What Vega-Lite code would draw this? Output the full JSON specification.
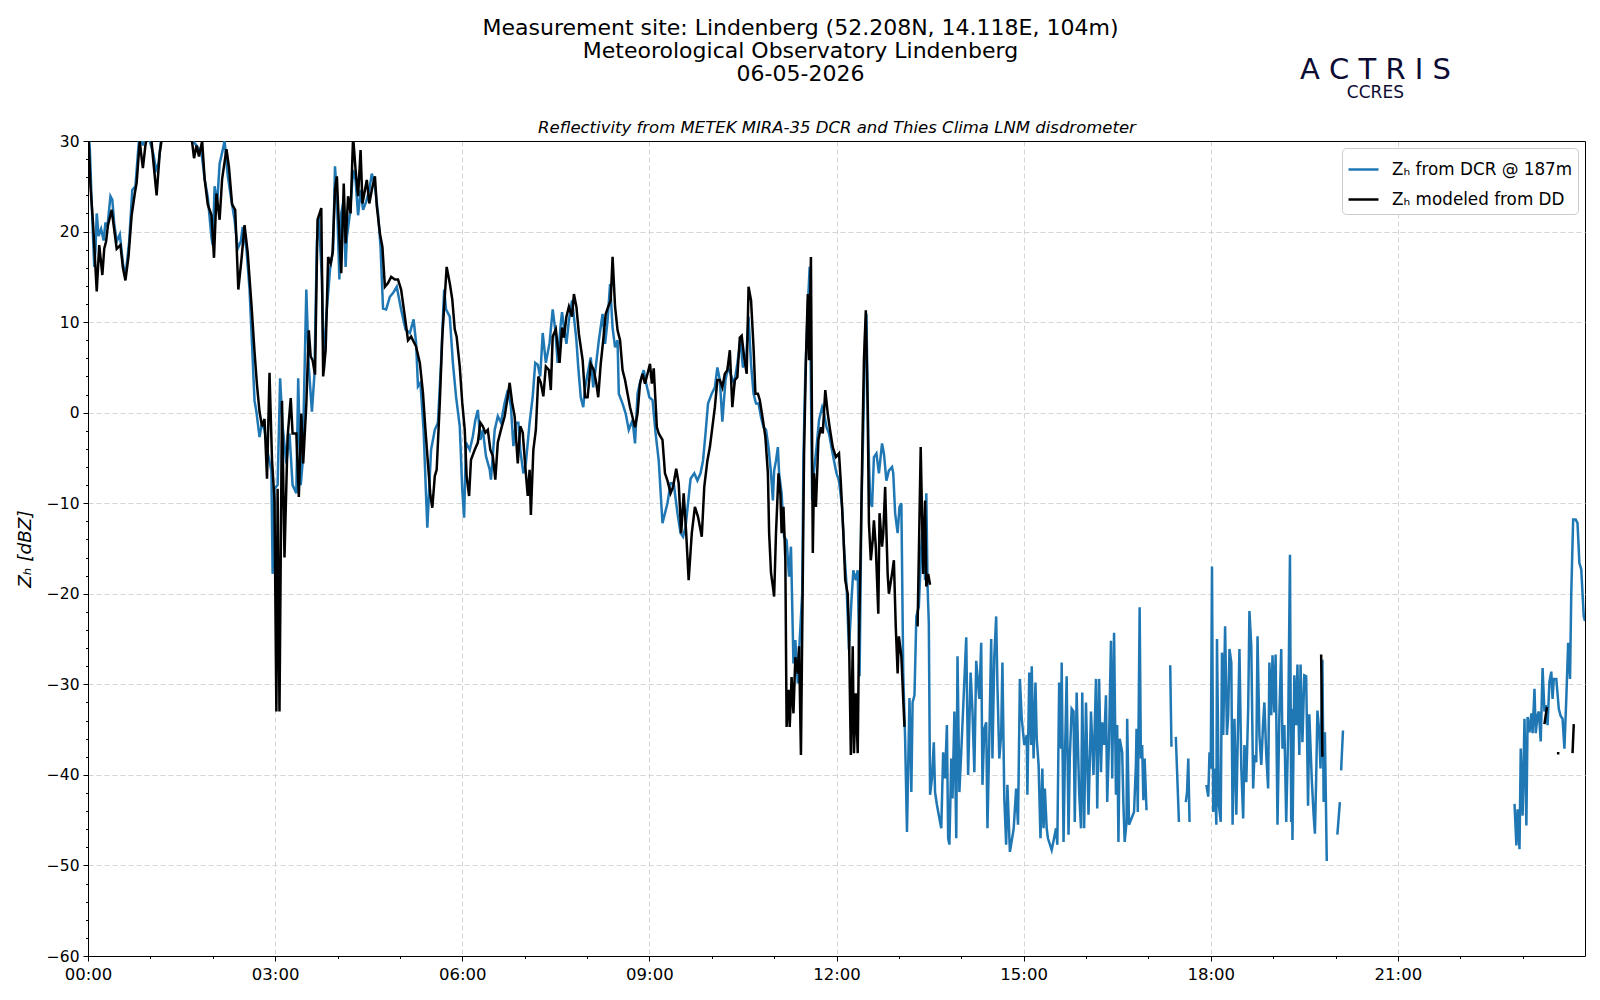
{
  "$schema": "https://vega.github.io/schema/vega-lite/v6.json",
  "width": 1497,
  "height": 815,
  "autosize": {"type": "none"},
  "padding": {"left": 88, "top": 141, "right": 15, "bottom": 44},
  "background": "white",
  "title": {
    "text": ["Measurement site: Lindenberg (52.208N, 14.118E, 104m)", "Meteorological Observatory Lindenberg", "06-05-2026"],
    "font": "DejaVu Sans",
    "fontSize": 22,
    "fontWeight": "normal",
    "color": "#000",
    "lineHeight": 23,
    "anchor": "middle",
    "frame": "group",
    "dx": -36,
    "offset": -30
  },
  "datasets": {
    "dcr": [
      {"t":0,"z":32},{"t":0.03,"z":29},{"t":0.06,"z":23},{"t":0.1,"z":16.1},{"t":0.12,"z":18},{"t":0.14,"z":22},{"t":0.17,"z":19.5},{"t":0.21,"z":20.3},{"t":0.25,"z":19},{"t":0.28,"z":21},{"t":0.31,"z":20.5},{"t":0.36,"z":23.9},{"t":0.39,"z":23.5},{"t":0.42,"z":20.9},{"t":0.46,"z":18.9},{"t":0.51,"z":19.7},{"t":0.56,"z":16.5},{"t":0.6,"z":15},{"t":0.66,"z":18.9},{"t":0.71,"z":24.6},{"t":0.76,"z":25},{"t":0.81,"z":29.5},{"t":0.84,"z":31},{"t":0.88,"z":29.5},{"t":0.92,"z":31},{"t":0.97,"z":30.5},{"t":1.01,"z":29.5},{"t":1.05,"z":28.5},{"t":1.09,"z":26.8},{"t":1.13,"z":27.5},{"t":1.17,"z":30},{"t":1.22,"z":31.5},{"t":1.3,"z":32},{"t":1.4,"z":31},{"t":1.5,"z":32},{"t":1.6,"z":31},{"t":1.68,"z":30},{"t":1.74,"z":29.5},{"t":1.82,"z":28.7},{"t":1.87,"z":25.8},{"t":1.92,"z":23.8},{"t":1.98,"z":19.3},{"t":2.0,"z":18.5},{"t":2.03,"z":25},{"t":2.07,"z":23},{"t":2.11,"z":27.5},{"t":2.15,"z":28.7},{"t":2.19,"z":30},{"t":2.24,"z":26.2},{"t":2.3,"z":23.4},{"t":2.35,"z":21.3},{"t":2.4,"z":18.1},{"t":2.45,"z":18.9},{"t":2.48,"z":20.5},{"t":2.54,"z":18.1},{"t":2.59,"z":13.6},{"t":2.63,"z":7.5},{"t":2.67,"z":1.3},{"t":2.7,"z":0.1},{"t":2.75,"z":-2.7},{"t":2.79,"z":-1.1},{"t":2.83,"z":-1.9},{"t":2.88,"z":-4.4},{"t":2.94,"z":-6.4},{"t":2.96,"z":-17.8},{"t":2.99,"z":-8.4},{"t":3.04,"z":-8},{"t":3.08,"z":3.8},{"t":3.12,"z":-1.5},{"t":3.18,"z":-5.6},{"t":3.23,"z":-2.3},{"t":3.28,"z":-8},{"t":3.34,"z":-8.9},{"t":3.37,"z":3.8},{"t":3.41,"z":-8},{"t":3.44,"z":-5.6},{"t":3.5,"z":13.6},{"t":3.54,"z":5},{"t":3.59,"z":0.1},{"t":3.63,"z":4.2},{"t":3.67,"z":18.9},{"t":3.7,"z":21.6},{"t":3.75,"z":14.8},{"t":3.78,"z":4.5},{"t":3.82,"z":10.6},{"t":3.88,"z":15.8},{"t":3.93,"z":18},{"t":3.96,"z":27.2},{"t":3.99,"z":23.9},{"t":4.03,"z":14.7},{"t":4.06,"z":22},{"t":4.1,"z":23.5},{"t":4.13,"z":16.1},{"t":4.15,"z":19.4},{"t":4.2,"z":22},{"t":4.25,"z":26.8},{"t":4.29,"z":25.7},{"t":4.33,"z":21.8},{"t":4.37,"z":24.6},{"t":4.41,"z":22.4},{"t":4.46,"z":23.3},{"t":4.51,"z":24.6},{"t":4.55,"z":26.4},{"t":4.6,"z":25},{"t":4.65,"z":22},{"t":4.69,"z":18.3},{"t":4.73,"z":11.5},{"t":4.78,"z":11.4},{"t":4.84,"z":12.8},{"t":4.89,"z":13.2},{"t":4.95,"z":13.9},{"t":5.02,"z":11.4},{"t":5.09,"z":9.2},{"t":5.16,"z":8.8},{"t":5.22,"z":10.3},{"t":5.26,"z":7.7},{"t":5.29,"z":2.9},{"t":5.33,"z":3.3},{"t":5.38,"z":-1.9},{"t":5.42,"z":-9.2},{"t":5.44,"z":-12.7},{"t":5.5,"z":-4.1},{"t":5.56,"z":-1.9},{"t":5.61,"z":-1.1},{"t":5.66,"z":5.5},{"t":5.71,"z":13.6},{"t":5.74,"z":11.4},{"t":5.8,"z":10.6},{"t":5.85,"z":5.5},{"t":5.9,"z":1.8},{"t":5.96,"z":-1.5},{"t":6.0,"z":-8.5},{"t":6.03,"z":-11.6},{"t":6.06,"z":-3.3},{"t":6.12,"z":-4.1},{"t":6.17,"z":-2.6},{"t":6.21,"z":-0.8},{"t":6.25,"z":0.3},{"t":6.29,"z":-3},{"t":6.33,"z":-1.9},{"t":6.38,"z":-4.8},{"t":6.44,"z":-6.3},{"t":6.46,"z":-7.4},{"t":6.52,"z":-1.9},{"t":6.57,"z":-0.4},{"t":6.62,"z":-1.1},{"t":6.68,"z":1.1},{"t":6.73,"z":2.5},{"t":6.78,"z":0.7},{"t":6.82,"z":-3.7},{"t":6.86,"z":-1.1},{"t":6.9,"z":-1.1},{"t":6.93,"z":-4.1},{"t":6.98,"z":-6.7},{"t":7.02,"z":-5.6},{"t":7.08,"z":-1.1},{"t":7.13,"z":1.8},{"t":7.17,"z":5.5},{"t":7.21,"z":5.3},{"t":7.25,"z":4},{"t":7.29,"z":8.8},{"t":7.34,"z":5.5},{"t":7.4,"z":7.7},{"t":7.45,"z":11.4},{"t":7.49,"z":9.2},{"t":7.53,"z":5.5},{"t":7.58,"z":9.9},{"t":7.6,"z":11.1},{"t":7.63,"z":9.4},{"t":7.67,"z":7.6},{"t":7.71,"z":10.2},{"t":7.76,"z":12.4},{"t":7.79,"z":10.6},{"t":7.83,"z":8},{"t":7.86,"z":5},{"t":7.9,"z":1.7},{"t":7.94,"z":0.6},{"t":7.97,"z":2.8},{"t":8.01,"z":4.3},{"t":8.06,"z":6.1},{"t":8.1,"z":2.8},{"t":8.14,"z":5},{"t":8.19,"z":8},{"t":8.25,"z":10.9},{"t":8.29,"z":7.6},{"t":8.33,"z":10.2},{"t":8.37,"z":14.2},{"t":8.41,"z":9.4},{"t":8.45,"z":7.2},{"t":8.49,"z":8},{"t":8.51,"z":2.1},{"t":8.57,"z":1},{"t":8.62,"z":-0.1},{"t":8.67,"z":-1.9},{"t":8.73,"z":-0.8},{"t":8.77,"z":-3.4},{"t":8.81,"z":2.1},{"t":8.86,"z":3.6},{"t":8.91,"z":4.7},{"t":8.95,"z":3.2},{"t":9.0,"z":1.7},{"t":9.05,"z":1.4},{"t":9.1,"z":-2.3},{"t":9.15,"z":-5.3},{"t":9.21,"z":-12.2},{"t":9.25,"z":-11.1},{"t":9.29,"z":-10},{"t":9.34,"z":-7.8},{"t":9.39,"z":-7.8},{"t":9.45,"z":-11.1},{"t":9.5,"z":-13.3},{"t":9.54,"z":-13.7},{"t":9.58,"z":-12.6},{"t":9.62,"z":-10},{"t":9.66,"z":-7.3},{"t":9.72,"z":-6.7},{"t":9.77,"z":-7.5},{"t":9.82,"z":-6.7},{"t":9.86,"z":-5.3},{"t":9.9,"z":-2.3},{"t":9.94,"z":1},{"t":10.0,"z":2.1},{"t":10.05,"z":2.8},{"t":10.09,"z":5},{"t":10.13,"z":3.6},{"t":10.17,"z":-1},{"t":10.22,"z":3.6},{"t":10.26,"z":5},{"t":10.3,"z":4.3},{"t":10.36,"z":3.2},{"t":10.41,"z":5.4},{"t":10.46,"z":8},{"t":10.5,"z":5},{"t":10.55,"z":5.8},{"t":10.59,"z":10.6},{"t":10.63,"z":5.4},{"t":10.67,"z":2.1},{"t":10.71,"z":1},{"t":10.75,"z":1},{"t":10.79,"z":-0.5},{"t":10.83,"z":-1.6},{"t":10.87,"z":-1.9},{"t":10.91,"z":-3.8},{"t":10.95,"z":-6.7},{"t":10.98,"z":-9.7},{"t":11.0,"z":-6.4},{"t":11.03,"z":-5.3},{"t":11.06,"z":-3.8},{"t":11.08,"z":-6.7},{"t":11.12,"z":-8.9},{"t":11.16,"z":-13.7},{"t":11.2,"z":-14.1},{"t":11.24,"z":-18.1},{"t":11.27,"z":-14.8},{"t":11.31,"z":-27.7},{"t":11.34,"z":-25.1},{"t":11.38,"z":-29.9},{"t":11.41,"z":-25.1},{"t":11.45,"z":-20},{"t":11.47,"z":-4.9},{"t":11.5,"z":4.3},{"t":11.54,"z":11.7},{"t":11.57,"z":16.1},{"t":11.61,"z":-9.7},{"t":11.64,"z":-6.4},{"t":11.68,"z":-3.8},{"t":11.72,"z":-0.8},{"t":11.77,"z":0.6},{"t":11.8,"z":-0.1},{"t":11.84,"z":-1.6},{"t":11.88,"z":-2.3},{"t":11.93,"z":-4.2},{"t":11.96,"z":-5.3},{"t":12.0,"z":-6.7},{"t":12.04,"z":-7.5},{"t":12.09,"z":-10.4},{"t":12.12,"z":-14.8},{"t":12.16,"z":-18.9},{"t":12.2,"z":-26.2},{"t":12.24,"z":-20.7},{"t":12.27,"z":-17.4},{"t":12.31,"z":-18.5},{"t":12.34,"z":-17.4},{"t":12.37,"z":-29.1},{"t":12.4,"z":-10.4},{"t":12.43,"z":-1.6},{"t":12.46,"z":8.7},{"t":12.48,"z":10.9},{"t":12.51,"z":-3},{"t":12.54,"z":-9.7},{"t":12.57,"z":-10.4},{"t":12.6,"z":-4.9},{"t":12.64,"z":-4.5},{"t":12.68,"z":-6.7},{"t":12.73,"z":-3.4},{"t":12.76,"z":-4.5},{"t":12.8,"z":-7.5},{"t":12.84,"z":-6.4},{"t":12.89,"z":-6},{"t":12.91,"z":-6.7},{"t":12.94,"z":-11.1},{"t":12.98,"z":-13.3},{"t":13.01,"z":-10.4},{"t":13.04,"z":-10},{"t":13.07,"z":-28.8},{"t":13.1,"z":-36},{"t":13.13,"z":-46.3},{"t":13.17,"z":-31.5},{"t":13.2,"z":-41.9},{"t":13.22,"z":-32},{"t":13.25,"z":-31.2},{"t":13.28,"z":-22.5},{"t":13.32,"z":-21.4},{"t":13.36,"z":-14.8},{"t":13.39,"z":-11.5},{"t":13.42,"z":-18.5},{"t":13.44,"z":-8.9},{"t":13.46,"z":-19.2},{"t":13.48,"z":-23.2},{"t":13.5,"z":-42.2},{"t":13.53,"z":-40.4},{"t":13.56,"z":-36.4},{"t":13.58,"z":-41.9},{"t":13.61,"z":-43.3},{"t":13.66,"z":-45.2},{"t":13.68,"z":-45.9},{"t":13.71,"z":-37.5},{"t":13.74,"z":-40.4},{"t":13.77,"z":-34.5},{"t":13.79,"z":-47},{"t":13.81,"z":-47.7},{"t":13.84,"z":-38.2},{"t":13.86,"z":-42.6},{"t":13.89,"z":-33},{"t":13.92,"z":-47},{"t":13.94,"z":-26.9},{"t":13.97,"z":-41.9},{"t":14.0,"z":-37.5},{"t":14.08,"z":-24.8},{"t":14.11,"z":-40},{"t":14.15,"z":-28.7},{"t":14.18,"z":-33},{"t":14.21,"z":-39.7},{"t":14.24,"z":-27.4},{"t":14.26,"z":-29.1},{"t":14.29,"z":-31.6},{"t":14.32,"z":-25.4},{"t":14.34,"z":-41.1},{"t":14.37,"z":-34.9},{"t":14.4,"z":-34.2},{"t":14.42,"z":-45.9},{"t":14.45,"z":-36},{"t":14.48,"z":-25},{"t":14.5,"z":-38.2},{"t":14.53,"z":-26.9},{"t":14.56,"z":-22.5},{"t":14.58,"z":-30.1},{"t":14.61,"z":-38.2},{"t":14.64,"z":-35.6},{"t":14.66,"z":-27.6},{"t":14.69,"z":-42.6},{"t":14.72,"z":-47.7},{"t":14.74,"z":-41.1},{"t":14.78,"z":-48.5},{"t":14.84,"z":-46},{"t":14.88,"z":-41.5},{"t":14.91,"z":-45.5},{"t":14.94,"z":-29.4},{"t":14.97,"z":-33.8},{"t":15.01,"z":-36.7},{"t":15.05,"z":-35.6},{"t":15.06,"z":-42.2},{"t":15.09,"z":-28.7},{"t":15.12,"z":-36.7},{"t":15.13,"z":-28},{"t":15.16,"z":-38.2},{"t":15.19,"z":-29.8},{"t":15.21,"z":-36},{"t":15.24,"z":-38.9},{"t":15.27,"z":-47},{"t":15.3,"z":-39.3},{"t":15.32,"z":-45.9},{"t":15.34,"z":-41.5},{"t":15.37,"z":-45.9},{"t":15.39,"z":-47},{"t":15.45,"z":-48.3},{"t":15.52,"z":-45.9},{"t":15.54,"z":-47.7},{"t":15.57,"z":-29.8},{"t":15.6,"z":-37.1},{"t":15.61,"z":-27.6},{"t":15.64,"z":-47.4},{"t":15.66,"z":-38.9},{"t":15.69,"z":-29.1},{"t":15.72,"z":-46.6},{"t":15.74,"z":-38.2},{"t":15.77,"z":-32.7},{"t":15.8,"z":-33},{"t":15.82,"z":-45.2},{"t":15.85,"z":-30.9},{"t":15.89,"z":-41.9},{"t":15.92,"z":-45.9},{"t":15.94,"z":-30.9},{"t":15.97,"z":-45.9},{"t":16.0,"z":-32},{"t":16.04,"z":-44.4},{"t":16.08,"z":-33},{"t":16.12,"z":-40},{"t":16.16,"z":-29.4},{"t":16.18,"z":-43.7},{"t":16.21,"z":-29.4},{"t":16.24,"z":-39.7},{"t":16.26,"z":-34.2},{"t":16.29,"z":-36.7},{"t":16.32,"z":-31.2},{"t":16.34,"z":-43},{"t":16.37,"z":-36},{"t":16.4,"z":-25.2},{"t":16.42,"z":-40.4},{"t":16.45,"z":-24.3},{"t":16.48,"z":-42.2},{"t":16.5,"z":-34.5},{"t":16.52,"z":-47.4},{"t":16.54,"z":-36},{"t":16.58,"z":-37.5},{"t":16.6,"z":-43.3},{"t":16.62,"z":-47.4},{"t":16.65,"z":-45.2},{"t":16.66,"z":-33.8},{"t":16.69,"z":-45.5},{"t":16.77,"z":-44.1},{"t":16.8,"z":-38.9},{"t":16.81,"z":-34.9},{"t":16.83,"z":-44.1},{"t":16.86,"z":-21.5},{"t":16.88,"z":-38.2},{"t":16.9,"z":-36.7},{"t":16.92,"z":-42.8},{"t":16.94,"z":-38.2},{"t":16.97,"z":-43.9},
      {"t":17.1,"z":null},
      {"t":17.35,"z":-27.9},{"t":17.37,"z":-36.9},
      {"t":17.4,"z":null},
      {"t":17.44,"z":-35.8},{"t":17.49,"z":-45.2},
      {"t":17.55,"z":null},
      {"t":17.6,"z":-43},{"t":17.62,"z":-41.9},{"t":17.64,"z":-38.2},{"t":17.66,"z":-45.2},
      {"t":17.8,"z":null},
      {"t":17.93,"z":-41.1},{"t":17.96,"z":-42.4},{"t":17.98,"z":-37.5},{"t":18.0,"z":-39.3},{"t":18.02,"z":-17},{"t":18.04,"z":-44.1},{"t":18.06,"z":-39.3},{"t":18.09,"z":-45.5},{"t":18.1,"z":-25},{"t":18.13,"z":-43.3},{"t":18.16,"z":-45.2},{"t":18.18,"z":-26.5},{"t":18.2,"z":-35.6},{"t":18.23,"z":-23.6},{"t":18.26,"z":-35.6},{"t":18.28,"z":-33.4},{"t":18.3,"z":-26.1},{"t":18.33,"z":-27.6},{"t":18.35,"z":-45.5},{"t":18.38,"z":-33.8},{"t":18.41,"z":-44.4},{"t":18.44,"z":-33.4},{"t":18.46,"z":-26.1},{"t":18.49,"z":-39.3},{"t":18.52,"z":-44.8},{"t":18.54,"z":-36.7},{"t":18.57,"z":-40.8},{"t":18.6,"z":-32.7},{"t":18.62,"z":-21.9},{"t":18.65,"z":-25.8},{"t":18.68,"z":-41.5},{"t":18.7,"z":-37.8},{"t":18.73,"z":-38.6},{"t":18.75,"z":-24.7},{"t":18.78,"z":-35.6},{"t":18.81,"z":-38.9},{"t":18.84,"z":-34.2},{"t":18.86,"z":-32},{"t":18.89,"z":-37.8},{"t":18.92,"z":-41.5},{"t":18.94,"z":-27.6},{"t":18.97,"z":-33.4},{"t":18.99,"z":-26.8},{"t":19.02,"z":-33.1},{"t":19.04,"z":-26.7},{"t":19.07,"z":-45.5},{"t":19.1,"z":-33.4},{"t":19.13,"z":-26.1},{"t":19.15,"z":-37.1},{"t":19.18,"z":-34.5},{"t":19.21,"z":-45.2},{"t":19.24,"z":-35.6},{"t":19.27,"z":-15.7},{"t":19.29,"z":-45.2},{"t":19.3,"z":-32.7},{"t":19.31,"z":-47.2},{"t":19.34,"z":-29},{"t":19.37,"z":-34.5},{"t":19.39,"z":-27.8},{"t":19.42,"z":-37.8},{"t":19.44,"z":-27.8},{"t":19.47,"z":-36.4},{"t":19.5,"z":-29},{"t":19.53,"z":-29.1},{"t":19.56,"z":-43.4},{"t":19.58,"z":-33.3},{"t":19.62,"z":-40.6},{"t":19.65,"z":-44.5},{"t":19.67,"z":-46.5},{"t":19.69,"z":-40.4},{"t":19.71,"z":-32.9},{"t":19.74,"z":-35.3},{"t":19.76,"z":-39.3},{"t":19.79,"z":-27.3},{"t":19.81,"z":-43},{"t":19.83,"z":-35.3},{"t":19.86,"z":-49.5},
      {"t":19.95,"z":null},
      {"t":20.03,"z":-46.6},{"t":20.07,"z":-43},
      {"t":20.08,"z":null},
      {"t":20.09,"z":-39.5},{"t":20.12,"z":-35.1},
      {"t":21,"z":null},
      {"t":22.87,"z":-43.2},{"t":22.9,"z":-47.8},{"t":22.92,"z":-43.8},{"t":22.95,"z":-48.2},{"t":22.97,"z":-37.1},{"t":23.0,"z":-44.5},{"t":23.03,"z":-33.8},{"t":23.06,"z":-45.6},{"t":23.08,"z":-33.6},{"t":23.11,"z":-35.3},{"t":23.14,"z":-33.2},{"t":23.16,"z":-35.4},{"t":23.19,"z":-30.5},{"t":23.21,"z":-35.4},{"t":23.24,"z":-33.4},{"t":23.26,"z":-33},{"t":23.29,"z":-36.3},{"t":23.32,"z":-28.2},{"t":23.35,"z":-33},{"t":23.37,"z":-32.3},{"t":23.4,"z":-34.5},{"t":23.43,"z":-29.7},{"t":23.46,"z":-28.6},{"t":23.48,"z":-31.6},{"t":23.5,"z":-29.4},{"t":23.54,"z":-29.4},{"t":23.58,"z":-32.7},{"t":23.61,"z":-33.5},{"t":23.64,"z":-33.8},{"t":23.67,"z":-37.1},{"t":23.7,"z":-31.6},{"t":23.73,"z":-25.4},{"t":23.76,"z":-29.4},{"t":23.78,"z":-19.9},{"t":23.81,"z":-11.8},{"t":23.85,"z":-11.8},{"t":23.88,"z":-12.2},{"t":23.91,"z":-16.6},{"t":23.94,"z":-17.3},{"t":23.98,"z":-22.5},{"t":24.0,"z":-23}
    ],
    "dd": [
      {"t":0,"z":32},{"t":0.04,"z":25},{"t":0.08,"z":21},{"t":0.14,"z":13.4},{"t":0.18,"z":18.5},{"t":0.23,"z":15.2},{"t":0.26,"z":18.1},{"t":0.29,"z":18.9},{"t":0.32,"z":20.7},{"t":0.38,"z":22.4},{"t":0.43,"z":19.7},{"t":0.46,"z":18.1},{"t":0.52,"z":18.5},{"t":0.56,"z":16},{"t":0.6,"z":14.6},{"t":0.65,"z":17.3},{"t":0.7,"z":21.8},{"t":0.75,"z":24.2},{"t":0.78,"z":25.4},{"t":0.83,"z":30},{"t":0.85,"z":28.7},{"t":0.88,"z":27},{"t":0.92,"z":29.5},{"t":0.96,"z":31},{"t":1.0,"z":31.5},{"t":1.04,"z":28.3},{"t":1.1,"z":24},{"t":1.15,"z":28.7},{"t":1.2,"z":31},{"t":1.3,"z":32},{"t":1.36,"z":30},{"t":1.45,"z":32},{"t":1.55,"z":31.5},{"t":1.65,"z":31},{"t":1.7,"z":28.1},{"t":1.74,"z":29.5},{"t":1.78,"z":28.3},{"t":1.83,"z":30},{"t":1.87,"z":25.8},{"t":1.92,"z":23},{"t":1.98,"z":21.8},{"t":2.02,"z":17.1},{"t":2.06,"z":24.2},{"t":2.11,"z":21.3},{"t":2.15,"z":25.8},{"t":2.22,"z":29.1},{"t":2.26,"z":27.1},{"t":2.31,"z":23},{"t":2.36,"z":22.4},{"t":2.41,"z":13.6},{"t":2.46,"z":16.9},{"t":2.51,"z":20.7},{"t":2.56,"z":17.7},{"t":2.62,"z":12},{"t":2.67,"z":6.7},{"t":2.71,"z":3},{"t":2.75,"z":0.1},{"t":2.79,"z":-1.5},{"t":2.83,"z":-0.7},{"t":2.87,"z":-7.3},{"t":2.91,"z":4.4},{"t":2.95,"z":-5.2},{"t":2.99,"z":-9.7},{"t":3.02,"z":-33},{"t":3.04,"z":-8.4},{"t":3.07,"z":-33},{"t":3.11,"z":1.3},{"t":3.15,"z":-16},{"t":3.2,"z":-2.7},{"t":3.25,"z":1.6},{"t":3.28,"z":-2.3},{"t":3.34,"z":-2.3},{"t":3.38,"z":-9.3},{"t":3.42,"z":-0.1},{"t":3.45,"z":-5.6},{"t":3.5,"z":0.9},{"t":3.54,"z":9.1},{"t":3.57,"z":6.2},{"t":3.6,"z":5.8},{"t":3.64,"z":4.2},{"t":3.68,"z":21.3},{"t":3.74,"z":22.6},{"t":3.77,"z":4},{"t":3.81,"z":6.9},{"t":3.85,"z":17.2},{"t":3.89,"z":16.5},{"t":3.92,"z":17.6},{"t":3.96,"z":24.6},{"t":3.99,"z":26.1},{"t":4.03,"z":19.4},{"t":4.06,"z":15.4},{"t":4.1,"z":25.3},{"t":4.13,"z":18.7},{"t":4.17,"z":23.9},{"t":4.21,"z":22},{"t":4.25,"z":30.5},{"t":4.29,"z":26.8},{"t":4.33,"z":23.9},{"t":4.37,"z":29},{"t":4.4,"z":23.1},{"t":4.44,"z":24.6},{"t":4.47,"z":25.7},{"t":4.51,"z":23.1},{"t":4.55,"z":24.6},{"t":4.6,"z":26.1},{"t":4.63,"z":22.8},{"t":4.68,"z":19.8},{"t":4.72,"z":18.3},{"t":4.76,"z":13.9},{"t":4.81,"z":14.3},{"t":4.86,"z":15},{"t":4.92,"z":14.7},{"t":4.97,"z":14.7},{"t":5.02,"z":13.6},{"t":5.08,"z":10.6},{"t":5.13,"z":8},{"t":5.18,"z":8.4},{"t":5.26,"z":7.3},{"t":5.32,"z":5.5},{"t":5.37,"z":2.2},{"t":5.41,"z":-1.9},{"t":5.45,"z":-5.6},{"t":5.49,"z":-9.2},{"t":5.52,"z":-10.5},{"t":5.56,"z":-7},{"t":5.59,"z":-6.3},{"t":5.64,"z":1.1},{"t":5.68,"z":8.4},{"t":5.72,"z":12.8},{"t":5.75,"z":16.1},{"t":5.8,"z":14.3},{"t":5.84,"z":12.5},{"t":5.88,"z":9.2},{"t":5.91,"z":8.4},{"t":5.96,"z":5.1},{"t":6.0,"z":1.1},{"t":6.04,"z":-1.9},{"t":6.07,"z":-7},{"t":6.11,"z":-9.2},{"t":6.14,"z":-5.2},{"t":6.2,"z":-4.1},{"t":6.25,"z":-3.3},{"t":6.29,"z":-1.1},{"t":6.33,"z":-1.5},{"t":6.37,"z":-2.2},{"t":6.41,"z":-1.9},{"t":6.45,"z":-4.1},{"t":6.49,"z":-4.8},{"t":6.53,"z":-7.4},{"t":6.57,"z":-3.3},{"t":6.62,"z":-1.9},{"t":6.68,"z":-0.4},{"t":6.73,"z":1.8},{"t":6.76,"z":3.3},{"t":6.8,"z":1.1},{"t":6.84,"z":-0.4},{"t":6.89,"z":-5.6},{"t":6.93,"z":-1.5},{"t":6.97,"z":-2.2},{"t":7.01,"z":-5.9},{"t":7.05,"z":-9.2},{"t":7.08,"z":-6.3},{"t":7.1,"z":-11.3},{"t":7.14,"z":-4.1},{"t":7.18,"z":-1.9},{"t":7.22,"z":4},{"t":7.26,"z":3.3},{"t":7.3,"z":1.8},{"t":7.34,"z":5.1},{"t":7.39,"z":4.7},{"t":7.42,"z":2.5},{"t":7.45,"z":8.4},{"t":7.5,"z":9.2},{"t":7.56,"z":5.5},{"t":7.6,"z":9.4},{"t":7.63,"z":8.3},{"t":7.67,"z":10.6},{"t":7.71,"z":11.7},{"t":7.76,"z":10.6},{"t":7.79,"z":13.1},{"t":7.83,"z":11.7},{"t":7.87,"z":8.7},{"t":7.93,"z":5.8},{"t":7.97,"z":1.7},{"t":8.01,"z":1.7},{"t":8.06,"z":5.4},{"t":8.11,"z":4.7},{"t":8.15,"z":3.2},{"t":8.18,"z":1.7},{"t":8.22,"z":5.4},{"t":8.26,"z":8},{"t":8.3,"z":10.9},{"t":8.34,"z":11.7},{"t":8.38,"z":12.4},{"t":8.41,"z":17.2},{"t":8.45,"z":11.7},{"t":8.49,"z":9.1},{"t":8.53,"z":8},{"t":8.57,"z":4.7},{"t":8.61,"z":3.6},{"t":8.65,"z":2.1},{"t":8.69,"z":0.6},{"t":8.73,"z":-0.5},{"t":8.77,"z":-1.6},{"t":8.81,"z":-0.1},{"t":8.85,"z":3.2},{"t":8.89,"z":4.3},{"t":8.93,"z":3.2},{"t":8.97,"z":4.3},{"t":9.01,"z":5.4},{"t":9.04,"z":3.2},{"t":9.07,"z":4.9},{"t":9.12,"z":-1.6},{"t":9.15,"z":-2.3},{"t":9.21,"z":-3},{"t":9.25,"z":-6.7},{"t":9.29,"z":-7.5},{"t":9.34,"z":-8.9},{"t":9.38,"z":-8.2},{"t":9.43,"z":-6.2},{"t":9.47,"z":-7.8},{"t":9.51,"z":-13.3},{"t":9.55,"z":-8.9},{"t":9.59,"z":-13.3},{"t":9.63,"z":-18.5},{"t":9.68,"z":-13.3},{"t":9.73,"z":-10.4},{"t":9.78,"z":-11.5},{"t":9.84,"z":-13.7},{"t":9.88,"z":-8.2},{"t":9.93,"z":-5.3},{"t":9.97,"z":-3.8},{"t":10.01,"z":-1.6},{"t":10.05,"z":0.6},{"t":10.09,"z":3.6},{"t":10.13,"z":3.6},{"t":10.17,"z":2.8},{"t":10.21,"z":4.3},{"t":10.25,"z":4.7},{"t":10.29,"z":6.9},{"t":10.33,"z":0.6},{"t":10.37,"z":3.6},{"t":10.41,"z":3.9},{"t":10.45,"z":8.3},{"t":10.48,"z":8.5},{"t":10.52,"z":6.1},{"t":10.56,"z":4.3},{"t":10.59,"z":13.9},{"t":10.63,"z":12.4},{"t":10.67,"z":7.2},{"t":10.7,"z":2.1},{"t":10.74,"z":2.1},{"t":10.77,"z":1.4},{"t":10.82,"z":-0.8},{"t":10.86,"z":-2.7},{"t":10.9,"z":-6.7},{"t":10.92,"z":-13.3},{"t":10.95,"z":-17.7},{"t":10.98,"z":-19.2},{"t":11.0,"z":-20.3},{"t":11.03,"z":-13.3},{"t":11.07,"z":-6.7},{"t":11.1,"z":-8.9},{"t":11.12,"z":-13.3},{"t":11.15,"z":-10.4},{"t":11.18,"z":-16.3},{"t":11.2,"z":-34.7},{"t":11.23,"z":-30.6},{"t":11.25,"z":-34.7},{"t":11.28,"z":-29.2},{"t":11.31,"z":-33.2},{"t":11.34,"z":-27},{"t":11.38,"z":-28.8},{"t":11.4,"z":-25.8},{"t":11.43,"z":-37.8},{"t":11.48,"z":-4.5},{"t":11.51,"z":5.8},{"t":11.54,"z":13.1},{"t":11.56,"z":5.8},{"t":11.59,"z":17.2},{"t":11.62,"z":-15.5},{"t":11.64,"z":-6.7},{"t":11.67,"z":-10.4},{"t":11.71,"z":-3},{"t":11.75,"z":-1.6},{"t":11.78,"z":-2.3},{"t":11.82,"z":2.5},{"t":11.86,"z":-0.1},{"t":11.89,"z":-1.6},{"t":11.94,"z":-3.8},{"t":11.99,"z":-4.9},{"t":12.04,"z":-4.5},{"t":12.07,"z":-7.8},{"t":12.11,"z":-13.3},{"t":12.14,"z":-18.5},{"t":12.18,"z":-20},{"t":12.2,"z":-24.4},{"t":12.23,"z":-37.8},{"t":12.26,"z":-25.8},{"t":12.28,"z":-37.6},{"t":12.31,"z":-31},{"t":12.34,"z":-37.6},{"t":12.36,"z":-25.1},{"t":12.39,"z":-14.1},{"t":12.42,"z":-1.6},{"t":12.44,"z":5.8},{"t":12.47,"z":11.3},{"t":12.5,"z":0.6},{"t":12.52,"z":-12.2},{"t":12.55,"z":-16.3},{"t":12.58,"z":-14.1},{"t":12.6,"z":-11.9},{"t":12.63,"z":-14.8},{"t":12.67,"z":-22.2},{"t":12.69,"z":-11.1},{"t":12.73,"z":-14.8},{"t":12.75,"z":-13.3},{"t":12.78,"z":-8.2},{"t":12.82,"z":-17.8},{"t":12.84,"z":-20},{"t":12.89,"z":-17.8},{"t":12.92,"z":-16.3},{"t":12.95,"z":-23.6},{"t":12.98,"z":-28.8},{"t":13.0,"z":-24.7},{"t":13.04,"z":-26.9},{"t":13.07,"z":-31.7},{"t":13.09,"z":-34.7},
      {"t":13.2,"z":null},
      {"t":13.3,"z":-23.6},{"t":13.35,"z":-3.8},{"t":13.39,"z":-17.8},{"t":13.42,"z":-9.7},{"t":13.44,"z":-19.2},{"t":13.47,"z":-17.8},{"t":13.5,"z":-19},
      {"t":16,"z":null},
      {"t":19.77,"z":-26.7},{"t":19.79,"z":-38},
      {"t":21,"z":null},
      {"t":23.35,"z":-34.4},{"t":23.39,"z":-32.5},
      {"t":23.45,"z":null},
      {"t":23.55,"z":-37.6},{"t":23.59,"z":-37.6},
      {"t":23.7,"z":null},
      {"t":23.8,"z":-37.6},{"t":23.82,"z":-34.4}
    ]
  },
  "resolve": {"axis": {"x": "independent", "y": "independent"}},
  "layer": [
    {
      "data": {"name": "dcr"},
      "mark": {"type": "line", "strokeWidth": 2.5, "clip": true, "invalid": "break-paths-filter-domains"},
      "encoding": {
        "x": {
          "field": "t", "type": "quantitative",
          "scale": {"domain": [0, 24], "nice": false, "zero": false},
          "axis": {
            "orient": "bottom", "title": null,
            "values": [0, 3, 6, 9, 12, 15, 18, 21],
            "labelExpr": "(datum.value < 10 ? '0' : '') + datum.value + ':00'",
            "grid": true, "tickSize": 5, "labelPadding": 5, "labelFlush": false,
            "labelFontSize": 16.5,
            "domain": true, "domainColor": "#000000", "domainWidth": 1
          }
        },
        "y": {
          "field": "z", "type": "quantitative",
          "scale": {"domain": [-60, 30], "nice": false, "zero": false},
          "axis": {
            "orient": "left", "title": "Zₕ [dBZ]",
            "values": [-60, -50, -40, -30, -20, -10, 0, 10, 20, 30],
            "grid": true, "tickSize": 5, "labelPadding": 4, "labelFlush": false,
            "domain": true, "domainColor": "#000000", "domainWidth": 1,
            "titleFontSize": 18.5, "titleFontStyle": "italic", "titlePadding": 12
          }
        },
        "color": {
          "datum": "DCR",
          "scale": {"domain": ["DCR", "DD"], "range": ["#1f77b4", "#000000"]},
          "legend": {
            "title": null,
            "orient": "top-right",
            "offset": 7,
            "labelLimit": 400,
            "labelExpr": "datum.label == 'DCR' ? 'Zₕ from DCR @ 187m' : 'Zₕ modeled from DD'"
          }
        }
      }
    },
    {
      "data": {"name": "dd"},
      "mark": {"type": "line", "strokeWidth": 2.5, "clip": true, "invalid": "break-paths-filter-domains"},
      "encoding": {
        "x": {
          "field": "t", "type": "quantitative",
          "scale": {"domain": [0, 24], "nice": false, "zero": false},
          "axis": {
            "orient": "bottom", "title": null, "labels": false, "grid": false, "tickSize": 2.5,
            "values": [1, 2, 4, 5, 7, 8, 10, 11, 13, 14, 16, 17, 19, 20, 22, 23]
          }
        },
        "y": {
          "field": "z", "type": "quantitative",
          "scale": {"domain": [-60, 30], "nice": false, "zero": false},
          "axis": {
            "orient": "left", "title": null, "labels": false, "grid": false, "tickSize": 2.5,
            "values": [-58, -56, -54, -52, -48, -46, -44, -42, -38, -36, -34, -32, -28, -26, -24, -22, -18, -16, -14, -12, -8, -6, -4, -2, 2, 4, 6, 8, 12, 14, 16, 18, 22, 24, 26, 28]
          }
        },
        "color": {"datum": "DD"}
      }
    },
    {
      "data": {"values": [{"label": "A C T R I S"}]},
      "mark": {"type": "text", "font": "DejaVu Sans", "fontSize": 29, "color": "#0c0b33", "align": "center", "baseline": "alphabetic"},
      "encoding": {
        "x": {
          "datum": 20.64, "type": "quantitative",
          "axis": {
            "orient": "top", "labels": false, "ticks": false, "grid": false,
            "domain": true, "domainColor": "#000000", "domainWidth": 1,
            "title": "Reflectivity from METEK MIRA-35 DCR and Thies Clima LNM disdrometer",
            "titleFontSize": 16.5, "titleFontStyle": "italic", "titlePadding": 6
          }
        },
        "y": {"datum": 36.9, "type": "quantitative", "axis": null},
        "text": {"field": "label"}
      }
    },
    {
      "data": {"values": [{"label": "CCRES"}]},
      "mark": {"type": "text", "font": "DejaVu Sans", "fontSize": 17, "color": "#0c0b33", "align": "center", "baseline": "alphabetic"},
      "encoding": {
        "x": {"datum": 20.64, "type": "quantitative", "axis": null},
        "y": {"datum": 34.7, "type": "quantitative", "axis": null},
        "text": {"field": "label"}
      }
    }
  ],
  "config": {
    "font": "DejaVu Sans",
    "view": {"stroke": "#000000", "strokeWidth": 1},
    "axis": {
      "domain": false,
      "labelFont": "DejaVu Sans",
      "labelFontSize": 15.5,
      "labelColor": "#000000",
      "tickColor": "#000000",
      "tickWidth": 1,
      "gridColor": "#d4d4d4",
      "gridDash": [5, 3],
      "gridWidth": 1,
      "titleFont": "DejaVu Sans",
      "titleFontWeight": "normal",
      "titleColor": "#000000"
    },
    "legend": {
      "labelFont": "DejaVu Sans",
      "labelFontSize": 16.8,
      "labelColor": "#000000",
      "symbolType": "stroke",
      "symbolStrokeWidth": 2.5,
      "symbolSize": 900,
      "labelOffset": 12,
      "padding": 5,
      "rowPadding": 4,
      "strokeColor": "#cccccc",
      "fillColor": "#ffffff",
      "cornerRadius": 4
    }
  }
}
